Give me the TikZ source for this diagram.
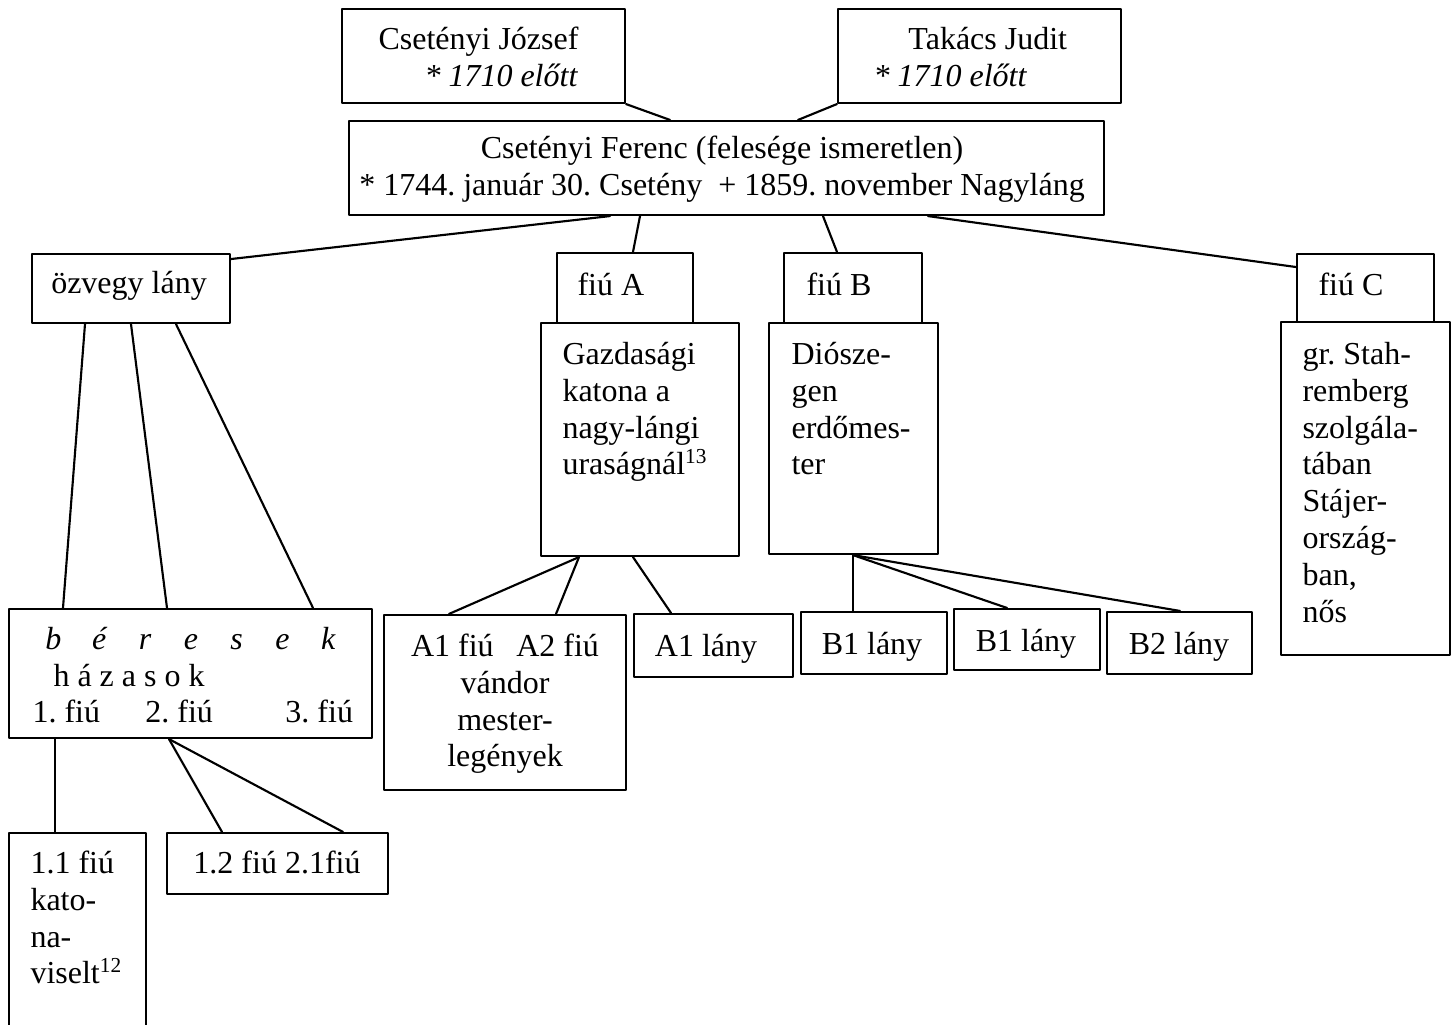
\documentclass[tikz,border=0pt]{standalone}
\usepackage{fontspec}
\setmainfont{Liberation Serif}
\usetikzlibrary{fit}
\frenchspacing

\tikzset{
  box/.style={draw, line width=.8pt, inner sep=0pt, fit={#1}},
  txt/.style={inner sep=0pt, anchor=base west},
  par/.style={inner sep=0pt, anchor=north west, align=left}
}

\begin{document}
\begin{tikzpicture}[line cap=round,line join=round,x=0.375pt,y=-0.375pt,font=\fontsize{12}{13.8}\selectfont]
\useasboundingbox (0,0) rectangle (1453,1024);
\clip (0,0) rectangle (1453,1024);
% parents
\node[box={(342,9) (625,103)}] (jozsef) {};
\node[box={(838,9) (1121,103)}] (takacs) {};
\node[box={(349,121) (1104,215)}] (ferenc) {};
\node[par] (jozsef-t) at (378,23.2) {\strut Csetényi József\\\hspace*{17.25pt}\textit{* 1710 előtt}};
\node[par] (takacs-t) at (873,23.2) {\strut\hspace*{13.1pt}Takács Judit\\\textit{* 1710 előtt}};
\node[par, anchor=north, align=center] (ferenc-t) at (722,132.2) {\strut Csetényi Ferenc (felesége ismeretlen)\\* 1744. január 30. Csetény\ \ + 1859. november Nagyláng};
% children
\node[box={(32,254) (230,323)}] (ozvegy) {};
\node[box={(557,253) (693,323)}] (fiuA) {};
\node[box={(541,323) (739,556)}] (gazd) {};
\node[box={(784,253) (922,323)}] (fiuB) {};
\node[box={(769,323) (938,554)}] (dioszeg) {};
\node[box={(1297,254) (1434,322)}] (fiuC) {};
\node[box={(1281,322) (1450,655)}] (stahr) {};
\node[txt, anchor=base] (ozvegy-t) at (129,293) {özvegy lány};
\node[txt] (fiuA-t) at (577,295) {fiú A};
\node[txt] (fiuB-t) at (806,295) {fiú B};
\node[txt] (fiuC-t) at (1318,295) {fiú C};
\node[par] (gazd-t) at (562,338.2) {\strut Gazdasági\\katona a\\nagy-lángi\\uraságnál\textsuperscript{13}};
\node[par] (dioszeg-t) at (791,338.2) {\strut Diósze-\\gen\\erdőmes-\\ter};
\node[par] (stahr-t) at (1302,338.2) {\strut gr. Stah-\\remberg\\szolgála-\\tában\\Stájer-\\ország-\\ban,\\nős};
% grandchildren
\node[box={(9,609) (372,738)}] (bereses) {};
\node[box={(384,615) (626,790)}] (kettos) {};
\node[box={(634,614) (793,677)}] (lanyA1) {};
\node[box={(801,612) (947,674)}] (lanyB1) {};
\node[box={(954,609) (1100,670)}] (lanyB1b) {};
\node[box={(1107,612) (1252,674)}] (lanyB2) {};
\node[txt] (bereses-t1) at (30,649) {\itshape\makebox[17.18pt]{b}\makebox[17.18pt]{é}\makebox[17.18pt]{r}\makebox[17.18pt]{e}\makebox[17.18pt]{s}\makebox[17.18pt]{e}\makebox[17.18pt]{k}};
\node[txt] (bereses-t2) at (53,686) {h á z a s o k};
\node[txt] (bereses-t3) at (32,722) {1. fiú\hspace{17pt}2. fiú\hspace{27.2pt}3. fiú};
\node[par, anchor=north, align=center] (kettos-t) at (505,630.2) {\strut A1 fiú\hspace{8.5pt}A2 fiú\\vándor\\mester-\\legények};
\node[txt, anchor=base] (lanyA1-t) at (706,656) {A1 lány};
\node[txt, anchor=base] (lanyB1-t) at (872,654) {B1 lány};
\node[txt, anchor=base] (lanyB1b-t) at (1026,651) {B1 lány};
\node[txt, anchor=base] (lanyB2-t) at (1179,654) {B2 lány};
% great-grandchildren
\node[box={(9,833) (146,1040)}] (fiu11) {};
\node[box={(167,833) (388,894)}] (fiu12) {};
\node[par] (fiu11-t) at (30,847.2) {\strut 1.1 fiú\\kato-\\na-\\viselt\textsuperscript{12}};
\node[txt, anchor=base] (fiu12-t) at (277,873) {1.2 fiú 2.1fiú};
% lines
\draw [line width=.8pt] (jozsef.south east) -- (ferenc.north -| 670,0);
\draw [line width=.8pt] (takacs.south west) -- (ferenc.north -| 798,0);
\draw [line width=.8pt] (ferenc.south -| 610,0) -- (ozvegy.east |- 0,259);
\draw [line width=.8pt] (ferenc.south -| 640,0) -- (fiuA.north -| 633,0);
\draw [line width=.8pt] (ferenc.south -| 823,0) -- (fiuB.north -| 837,0);
\draw [line width=.8pt] (ferenc.south -| 928,0) -- (fiuC.west |- 0,267);
\draw [line width=.8pt] (ozvegy.south -| 85,0) -- (bereses.north -| 63,0);
\draw [line width=.8pt] (ozvegy.south -| 131,0) -- (bereses.north -| 167,0);
\draw [line width=.8pt] (ozvegy.south -| 176,0) -- (bereses.north -| 313,0);
\draw [line width=.8pt] (gazd.south -| 579,0) -- (kettos.north -| 449,0);
\draw [line width=.8pt] (gazd.south -| 579,0) -- (kettos.north -| 556,0);
\draw [line width=.8pt] (gazd.south -| 633,0) -- (lanyA1.north -| 671,0);
\draw [line width=.8pt] (dioszeg.south -| 853,0) -- (lanyB1.north -| 853,0);
\draw [line width=.8pt] (dioszeg.south -| 853,0) -- (lanyB1b.north -| 1007,0);
\draw [line width=.8pt] (dioszeg.south -| 853,0) -- (lanyB2.north -| 1180,0);
\draw [line width=.8pt] (bereses.south -| 55,0) -- (fiu11.north -| 55,0);
\draw [line width=.8pt] (bereses.south -| 169,0) -- (fiu12.north -| 222,0);
\draw [line width=.8pt] (bereses.south -| 169,0) -- (fiu12.north -| 343,0);
\end{tikzpicture}
\end{document}
